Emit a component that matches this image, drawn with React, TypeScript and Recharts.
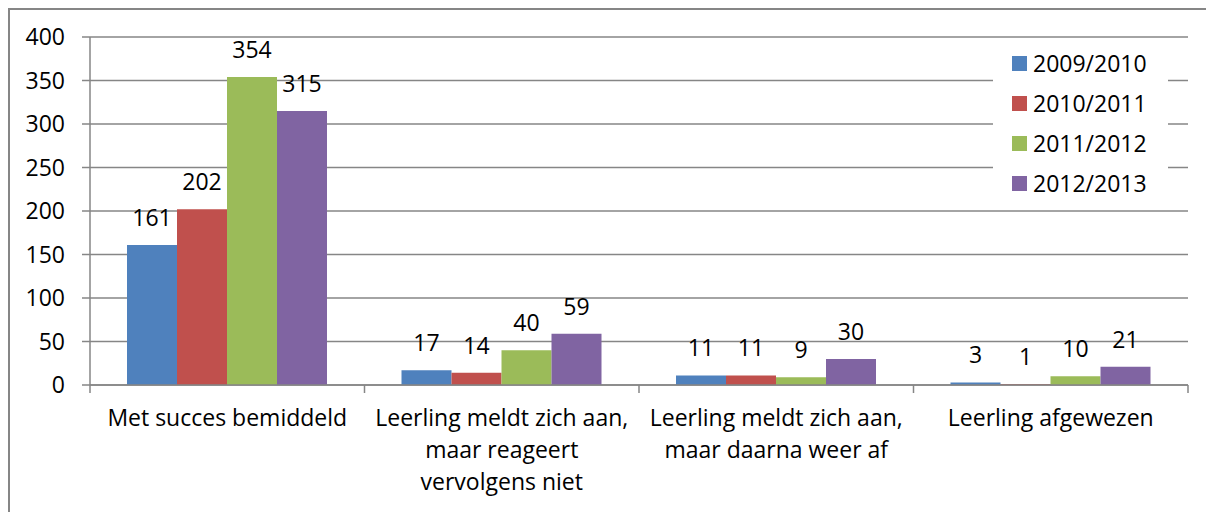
import type { CSSProperties, ReactNode } from "react";
import { Bar, BarChart, CartesianGrid, LabelList, Legend, XAxis, YAxis } from "recharts";

// categories on the x axis ("\n" marks where the original label wraps)
const categories = [
  "Met succes bemiddeld",
  "Leerling meldt zich aan,\nmaar reageert\nvervolgens niet",
  "Leerling meldt zich aan,\nmaar daarna weer af",
  "Leerling afgewezen",
];

const seriesNames = ["2009/2010", "2010/2011", "2011/2012", "2012/2013"];
const seriesColors = ["#4F81BD", "#C0504D", "#9BBB59", "#8064A2"];

const values2009 = [161, 17, 11, 3];
const values2010 = [202, 14, 11, 1];
const values2011 = [354, 40, 9, 10];
const values2012 = [315, 59, 30, 21];

const yTicks = [0, 50, 100, 150, 200, 250, 300, 350, 400];

const seriesValues = [values2009, values2010, values2011, values2012];
const seriesKeys = ["s0", "s1", "s2", "s3"];

const data = categories.map((name, i) => {
  const row: Record<string, string | number> = { name };
  seriesKeys.forEach((k, s) => {
    row[k] = seriesValues[s][i];
  });
  return row;
});

const GRID = "#868686";
const FONT = 23;

function CategoryTick(props: any): ReactNode {
  const { x, y, payload, index, width, visibleTicksCount } = props;
  const band = width && visibleTicksCount ? width / visibleTicksCount : 0;
  const lines = String(payload.value).split("\n");
  return (
    <g>
      {band > 0 && (
        <line x1={x - band / 2} x2={x - band / 2} y1={y} y2={y + 8} stroke={GRID} strokeWidth={1.5} />
      )}
      {band > 0 && index === visibleTicksCount - 1 && (
        <line x1={x + band / 2} x2={x + band / 2} y1={y} y2={y + 8} stroke={GRID} strokeWidth={1.5} />
      )}
      <text textAnchor="middle" fill="#000" fontSize={FONT}>
        {lines.map((line, i) => (
          <tspan key={i} x={x} y={y + 41 + i * 32}>
            {line}
          </tspan>
        ))}
      </text>
    </g>
  );
}

function LegendBox(props: any): ReactNode {
  const payload = props.payload ?? [];
  return (
    <div style={styles.legend}>
      {payload.map((entry: any) => (
        <div key={entry.value} style={styles.legendRow}>
          <span style={{ ...styles.legendSwatch, background: entry.color }} />
          <span>{entry.value}</span>
        </div>
      ))}
    </div>
  );
}

export default function App() {
  return (
    <div style={styles.frame}>
      <BarChart
        width={1204}
        height={502}
        data={data}
        margin={{ top: 27, right: 26, left: 0, bottom: 0 }}
        barGap={0}
      >
        <CartesianGrid vertical={false} stroke={GRID} strokeWidth={1.5} />
        <XAxis
          dataKey="name"
          height={127}
          axisLine={{ stroke: GRID, strokeWidth: 1.5 }}
          tickLine={false}
          tickSize={0}
          tickMargin={0}
          interval={0}
          tick={<CategoryTick />}
        />
        <YAxis
          width={80}
          domain={[0, 400]}
          ticks={yTicks}
          axisLine={{ stroke: GRID, strokeWidth: 1.5 }}
          tickLine={{ stroke: GRID, strokeWidth: 1.5 }}
          tickSize={8}
          tickMargin={17}
          tick={{ fill: "#000", fontSize: FONT }}
        />
        <Legend
          layout="horizontal"
          verticalAlign="middle"
          align="center"
          content={<LegendBox />}
          wrapperStyle={{ left: 983, top: 31, width: 175 }}
        />
        {seriesKeys.map((k, s) => (
          <Bar
            key={k}
            dataKey={k}
            name={seriesNames[s]}
            fill={seriesColors[s]}
            barSize={50}
            isAnimationActive={false}
          >
            <LabelList dataKey={k} position="top" offset={19} fill="#000" fontSize={FONT} />
          </Bar>
        ))}
      </BarChart>
    </div>
  );
}

const styles: Record<string, CSSProperties> = {
  frame: {
    width: 1206,
    height: 504,
    boxSizing: "border-box",
    borderLeft: `2px solid ${GRID}`,
    borderTop: `2px solid ${GRID}`,
    background: "#fff",
    fontFamily: '"Open Sans", sans-serif',
    overflow: "hidden",
  },
  legend: {
    background: "#fff",
    paddingTop: 2,
    paddingBottom: 5,
    fontSize: FONT,
    color: "#000",
    lineHeight: "40px",
  },
  legendRow: {
    display: "flex",
    alignItems: "center",
    height: 40,
    paddingLeft: 19,
  },
  legendSwatch: {
    display: "inline-block",
    width: 15,
    height: 15,
    marginRight: 6,
  },
};
